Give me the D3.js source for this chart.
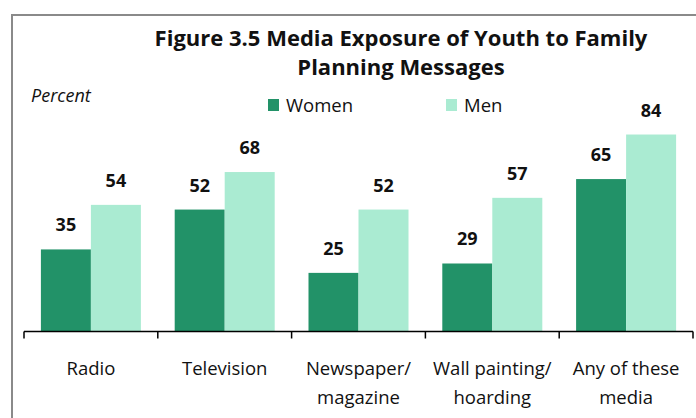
<!DOCTYPE html>
<html>
<head>
<meta charset="utf-8">
<script src="https://cdn.jsdelivr.net/npm/d3@7"></script>
<style>
  body { margin: 0; background: #fff; }
  svg { display: block; font-family: "Open Sans", sans-serif; }
</style>
</head>
<body>
<svg width="696" height="418"></svg>
<script>
var categories = ["Radio", "Television", "Newspaper/|magazine", "Wall painting/|hoarding", "Any of these|media"];
var series = ["Women", "Men"];
var women = [35, 52, 25, 29, 65];
var men = [54, 68, 52, 57, 84];
var colors = ["#229268", "#aaebd2"];

var svg = d3.select("svg"),
    width = +svg.attr("width"),
    height = +svg.attr("height");

var data = categories.map(function (c, i) {
    return { cat: c, values: [women[i], men[i]] };
});

// frame around the figure
svg.append("path")
    .attr("d", "M12," + height + "V15H" + width)
    .attr("fill", "none")
    .attr("stroke", "#8a8a8a")
    .attr("stroke-width", 2);

var x0 = d3.scaleBand()
    .domain(categories)
    .range([24, 693])
    .paddingInner(0)
    .paddingOuter(0);

var x1 = d3.scaleBand()
    .domain(series)
    .range([0, x0.bandwidth()])
    .paddingInner(0)
    .paddingOuter(0.338);

var y = d3.scaleLinear()
    .domain([0, 100])
    .range([331.5, 97]);

// bars
var groups = svg.append("g")
    .selectAll("g")
    .data(data)
    .enter()
    .append("g")
    .attr("transform", function (d) { return "translate(" + x0(d.cat) + ",0)" });

groups.selectAll("rect")
    .data(function (d) { return d.values.map(function (v, i) { return { s: series[i], v: v, i: i } }) })
    .enter()
    .append("rect")
    .attr("x", function (d) { return x1(d.s) })
    .attr("y", function (d) { return y(d.v) })
    .attr("width", x1.bandwidth())
    .attr("height", function (d) { return y(0) - y(d.v) })
    .attr("fill", function (d) { return colors[d.i] });

groups.selectAll("text")
    .data(function (d) { return d.values.map(function (v, i) { return { s: series[i], v: v } }) })
    .enter()
    .append("text")
    .attr("x", function (d) { return x1(d.s) + x1.bandwidth() / 2 })
    .attr("y", function (d) { return y(d.v) - 18 })
    .attr("text-anchor", "middle")
    .style("font-size", "18px")
    .style("font-weight", "bold")
    .style("fill", "#111")
    .text(function (d) { return d.v });

// x axis
var axis = svg.append("g")
    .attr("transform", "translate(0," + y(0) + ")");
axis.append("line")
    .attr("x1", 24).attr("x2", 693)
    .attr("stroke", "#000").attr("stroke-width", 1.5);
axis.selectAll(".tk")
    .data(categories.concat(["end"]))
    .enter()
    .append("line")
    .attr("x1", function (d, i) { return x0.range()[0] + i * x0.bandwidth() })
    .attr("x2", function (d, i) { return x0.range()[0] + i * x0.bandwidth() })
    .attr("y1", 0).attr("y2", 7)
    .attr("stroke", "#000").attr("stroke-width", 1.5);

var labels = axis.selectAll(".lbl")
    .data(categories)
    .enter()
    .append("text")
    .attr("text-anchor", "middle")
    .attr("transform", function (d) { return "translate(" + (x0(d) + x0.bandwidth() / 2) + ",0)" })
    .style("font-size", "18.5px")
    .style("fill", "#111");
labels.selectAll("tspan")
    .data(function (d) { return d.split("|") })
    .enter()
    .append("tspan")
    .attr("x", 0)
    .attr("y", function (d, i) { return 43.5 + i * 28.5 })
    .text(function (d) { return d });

// title
svg.append("text")
    .attr("x", 401).attr("y", 46)
    .attr("text-anchor", "middle")
    .style("font-size", "22px").style("font-weight", "bold").style("fill", "#111")
    .text("Figure 3.5 Media Exposure of Youth to Family");
svg.append("text")
    .attr("x", 401).attr("y", 75)
    .attr("text-anchor", "middle")
    .style("font-size", "22px").style("font-weight", "bold").style("fill", "#111")
    .text("Planning Messages");

svg.append("text")
    .attr("x", 31).attr("y", 102)
    .style("font-size", "18px").style("font-style", "italic").style("fill", "#111")
    .text("Percent");

// legend
var legendX = [268, 446];
var legend = svg.selectAll(".leg")
    .data(series)
    .enter()
    .append("g")
    .attr("transform", function (d, i) { return "translate(" + legendX[i] + ",99)" });
legend.append("rect")
    .attr("width", 11).attr("height", 12)
    .attr("fill", function (d, i) { return colors[i] });
legend.append("text")
    .attr("x", 18).attr("y", 13)
    .style("font-size", "18.5px").style("fill", "#111")
    .text(function (d) { return d });
</script>
</body>
</html>
